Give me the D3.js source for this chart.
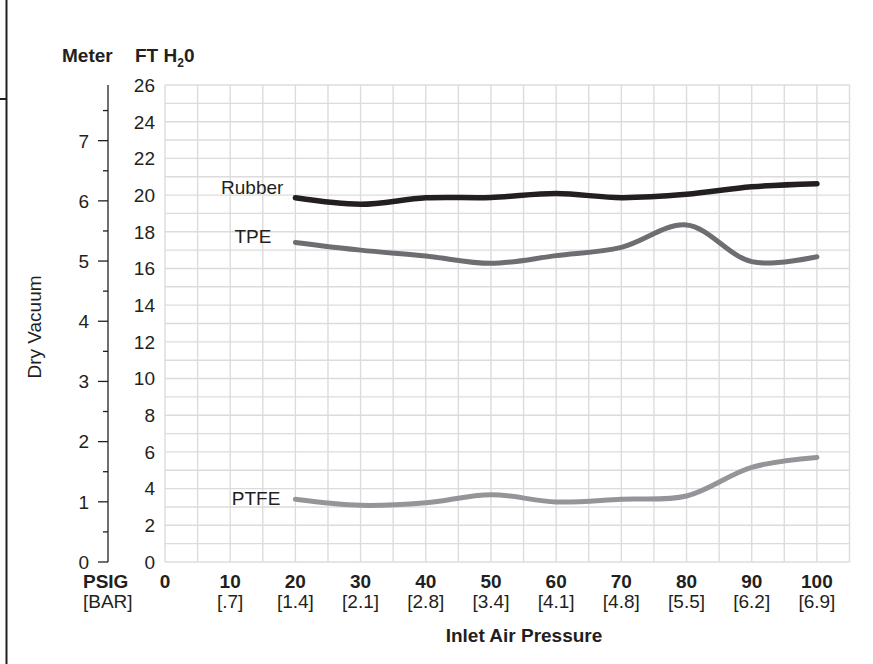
<!DOCTYPE html>
<html>
<head>
<meta charset="utf-8">
<script src="https://cdn.jsdelivr.net/npm/d3@7"></script>
<style>
  body { margin: 0; background: #fff; }
  svg text { font-family: "Liberation Sans", Arial, sans-serif; fill: #231f20; font-size: 19px; }
  .bold { font-weight: bold; }
</style>
</head>
<body>
<svg width="873" height="664"></svg>
<script>
// inlet pressure (psig) and bar equivalents
var psig = [20, 30, 40, 50, 60, 70, 80, 90, 100];
var psigTicks = [0, 10, 20, 30, 40, 50, 60, 70, 80, 90, 100];
var barLabels = ['', '[.7]', '[1.4]', '[2.1]', '[2.8]', '[3.4]', '[4.1]', '[4.8]', '[5.5]', '[6.2]', '[6.9]'];

// dry vacuum in ft H2O
var rubber = [19.85, 19.5, 19.85, 19.87, 20.08, 19.86, 20.04, 20.45, 20.62];
var tpe    = [17.42, 17.0, 16.68, 16.28, 16.7, 17.15, 18.37, 16.37, 16.64];
var ptfe   = [3.42, 3.09, 3.23, 3.67, 3.27, 3.42, 3.6, 5.16, 5.7];

var ftTicks = [0, 2, 4, 6, 8, 10, 12, 14, 16, 18, 20, 22, 24, 26];
var meterTicks = [0, 1, 2, 3, 4, 5, 6, 7];

var svg = d3.select('svg');

var x = d3.scaleLinear().domain([0, 105]).range([165, 849.5]);
var y = d3.scaleLinear().domain([0, 26]).range([562, 85]);
var yM = d3.scaleLinear().domain([0, 26 * 0.3048]).range([562, 85]);

// left frame
svg.append('line').attr('x1', 6.5).attr('x2', 6.5).attr('y1', 0).attr('y2', 664)
  .attr('stroke', '#231f20').attr('stroke-width', 2);
svg.append('line').attr('x1', 0).attr('x2', 7).attr('y1', 99).attr('y2', 99)
  .attr('stroke', '#231f20').attr('stroke-width', 2);

// grid
var grid = svg.append('g').attr('stroke', '#dcdcdc').attr('stroke-width', 1.4);
grid.selectAll('.v')
    .data(d3.range(0, 106, 5))
  .enter().append('line')
    .attr('x1', function(d) { return x(d); })
    .attr('x2', function(d) { return x(d); })
    .attr('y1', y(26)).attr('y2', y(0));
grid.selectAll('.h')
    .data(d3.range(0, 27, 1))
  .enter().append('line')
    .attr('y1', function(d) { return y(d); })
    .attr('y2', function(d) { return y(d); })
    .attr('x1', x(0)).attr('x2', x(105));

// ft labels
svg.selectAll('.ft')
    .data(ftTicks)
  .enter().append('text')
    .attr('x', 155)
    .attr('y', function(d) { return y(d); })
    .attr('dy', '0.36em')
    .attr('text-anchor', 'end')
    .text(function(d) { return d; });

// meter axis
var meter = svg.append('g').attr('stroke', '#231f20').attr('stroke-width', 1.3);
meter.append('line').attr('x1', 108).attr('x2', 108).attr('y1', 85).attr('y2', 562);
meter.selectAll('.mt')
    .data(d3.range(0, 7.6, 0.5))
  .enter().append('line')
    .attr('x1', function(d) { return d % 1 === 0 ? 98 : 103; })
    .attr('x2', 108)
    .attr('y1', function(d) { return yM(d); })
    .attr('y2', function(d) { return yM(d); });
svg.selectAll('.ml')
    .data(meterTicks)
  .enter().append('text')
    .attr('x', 89)
    .attr('y', function(d) { return yM(d); })
    .attr('dy', '0.36em')
    .attr('text-anchor', 'end')
    .text(function(d) { return d; });

// headers
svg.append('text').attr('class', 'bold').attr('x', 62).attr('y', 62).text('Meter');
var ft = svg.append('text').attr('class', 'bold').attr('x', 135).attr('y', 62);
ft.append('tspan').text('FT H');
ft.append('tspan').attr('dy', 5).style('font-size', '12px').text('2');
ft.append('tspan').attr('dy', -5).text('0');

// y title
svg.append('text')
  .attr('transform', 'translate(41,327) rotate(-90)')
  .attr('text-anchor', 'middle')
  .text('Dry Vacuum');

// x labels
svg.selectAll('.xl')
    .data(psigTicks)
  .enter().append('text')
    .attr('class', 'bold')
    .attr('x', function(d) { return x(d); })
    .attr('y', 588)
    .attr('text-anchor', 'middle')
    .text(function(d) { return d; });
svg.selectAll('.bl')
    .data(barLabels)
  .enter().append('text')
    .attr('x', function(d, i) { return x(psigTicks[i]); })
    .attr('y', 608)
    .attr('text-anchor', 'middle')
    .text(function(d) { return d; });
svg.append('text').attr('class', 'bold').attr('x', 83).attr('y', 588).text('PSIG');
svg.append('text').attr('x', 83).attr('y', 608).text('[BAR]');
svg.append('text').attr('class', 'bold').attr('x', 524).attr('y', 642)
  .attr('text-anchor', 'middle').text('Inlet Air Pressure');

// curves
var line = d3.line()
  .x(function(d, i) { return x(psig[i]); })
  .y(function(d) { return y(d); })
  .curve(d3.curveCatmullRom.alpha(0.5));

var series = [
  { name: 'Rubber', values: rubber, color: '#231f20', width: 5.5, dx: -12, dy: -4 },
  { name: 'TPE', values: tpe, color: '#6d6e71', width: 5, dx: -24, dy: 1 },
  { name: 'PTFE', values: ptfe, color: '#939598', width: 5, dx: -15, dy: 6 }
];

svg.selectAll('.series')
    .data(series)
  .enter().append('path')
    .attr('d', function(d) { return line(d.values); })
    .attr('fill', 'none')
    .attr('stroke', function(d) { return d.color; })
    .attr('stroke-width', function(d) { return d.width; })
    .attr('stroke-linecap', 'round');

svg.selectAll('.slabel')
    .data(series)
  .enter().append('text')
    .attr('x', function(d) { return x(psig[0]) + d.dx; })
    .attr('y', function(d) { return y(d.values[0]) + d.dy; })
    .attr('text-anchor', 'end')
    .text(function(d) { return d.name; });
</script>
</body>
</html>
